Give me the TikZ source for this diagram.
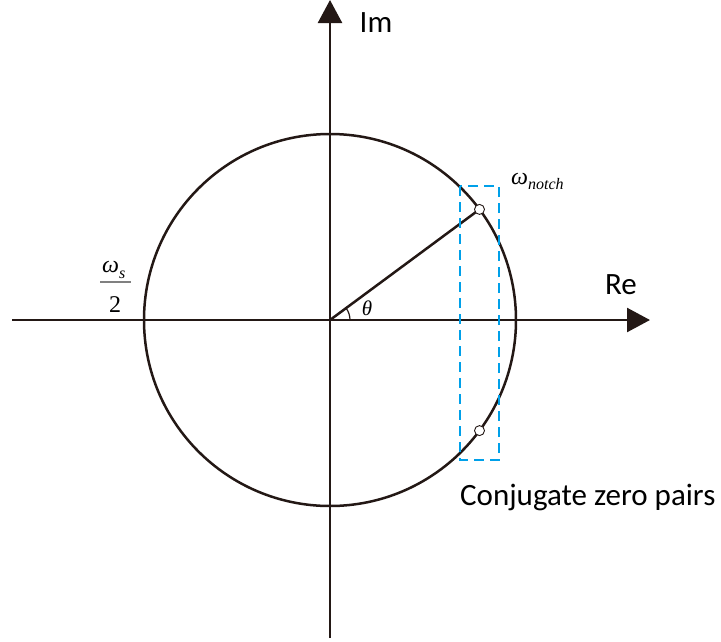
\documentclass[tikz,border=0pt]{standalone}
\usepackage{fontspec}
\setmainfont{Carlito}
\newfontfamily\tms{Liberation Serif}
\usetikzlibrary{arrows.meta}
\definecolor{ink}{HTML}{231815}
\definecolor{cyanb}{HTML}{00A0E9}
\begin{document}
\begin{tikzpicture}[x=1pt,y=-1pt,
  axis/.style={draw=ink,line width=2.5pt,-{Triangle[length=23pt,width=24pt]}},
  curve/.style={draw=ink,line width=2.5pt},
  zero/.style={circle,draw=ink,fill=white,line width=0.9pt,minimum size=10pt,inner sep=0pt},
  lab/.style={inner sep=0pt,font=\fontsize{31}{31}\selectfont},
  mlab/.style={inner sep=0pt,font=\tms\itshape\fontsize{24}{24}\selectfont},
  dashbox/.style={draw=cyanb,line width=1.8pt,dash pattern=on 10pt off 6pt}]
\useasboundingbox (0,0) rectangle (721,641);
\coordinate (O) at (330,320);
\coordinate (xl) at (12,320);
\coordinate (xr) at (650,320);
\coordinate (yb) at (330,638);
\coordinate (yt) at (330,0);
\draw[axis] (xl) -- (xr);
\draw[axis] (yb) -- (yt);
\draw[curve] (O) circle[radius=186];
\coordinate (p1) at (479.5,209.4);
\coordinate (p2) at (479.5,430.6);
\draw[curve] (O) -- (p1);
\draw[draw=ink,line width=1.2pt] ([shift={(20,0)}]O) arc[start angle=0,end angle=-36.5,radius=20];
\draw[dashbox] (460,186) rectangle (499,460);
\node[zero] (z1) at (p1) {};
\node[zero] (z2) at (p2) {};
\node[lab] (im) at (376,23) {Im};
\node[lab] (re) at (621,285) {Re};
\node[lab,anchor=base west] (cz) at (460,505) {Conjugate zero pairs};
\node[mlab,anchor=base west] (wn) at (511,184) {ω\raisebox{-5pt}{\fontsize{16}{16}\selectfont notch}};
\node[mlab,font=\tms\itshape\fontsize{21}{21}\selectfont] (th) at (367,308) {θ};
\node[mlab,anchor=base west] (ws) at (102,272) {ω\raisebox{-6pt}{\fontsize{16}{16}\selectfont s}};
\coordinate (fl) at (100,282);
\coordinate (fr) at (131,282);
\draw[draw=gray,line width=1.5pt] (fl) -- (fr);
\node[mlab,font=\tms\fontsize{24}{24}\selectfont] (two) at (115,305) {2};
\end{tikzpicture}
\end{document}
